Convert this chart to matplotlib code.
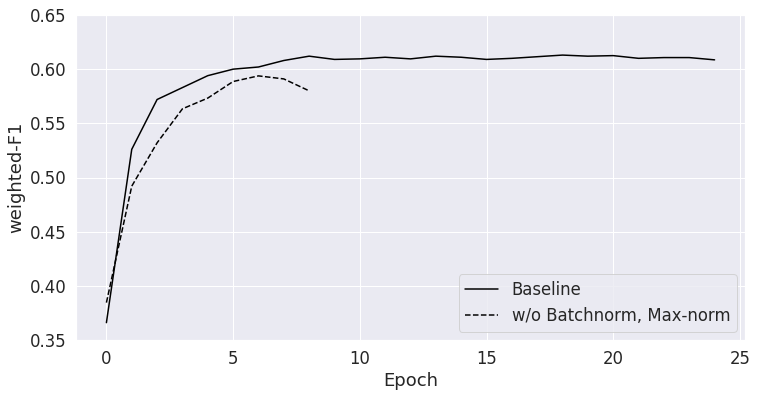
import matplotlib
matplotlib.use("Agg")
import matplotlib.pyplot as plt
import seaborn as sns

epochs_baseline = list(range(25))
baseline = [0.366, 0.526, 0.572, 0.583, 0.594, 0.600, 0.602, 0.608, 0.612, 0.609,
            0.6095, 0.611, 0.6095, 0.612, 0.611, 0.609, 0.610, 0.6115, 0.613, 0.612,
            0.6125, 0.610, 0.6107, 0.6107, 0.6086]
epochs_nobn = list(range(9))
nobn = [0.3845, 0.492, 0.532, 0.5634, 0.5733, 0.5886, 0.5938, 0.591, 0.580]

sns.set(font_scale=1.5)

fig = plt.figure(figsize=(757/72, 397/72), dpi=72)
ax = fig.add_axes([76/757, 1-340/397, (745-76)/757, (340-15)/397])
ax.plot(epochs_baseline, baseline, color="black", linestyle="-", label="Baseline")
ax.plot(epochs_nobn, nobn, color="black", linestyle="--", label="w/o Batchnorm, Max-norm")
ax.set_ylim(0.35, 0.65)
ax.set_xlabel("Epoch")
ax.set_ylabel("weighted-F1")
ax.legend(loc="lower right")
fig.savefig("out.png", dpi=72)
